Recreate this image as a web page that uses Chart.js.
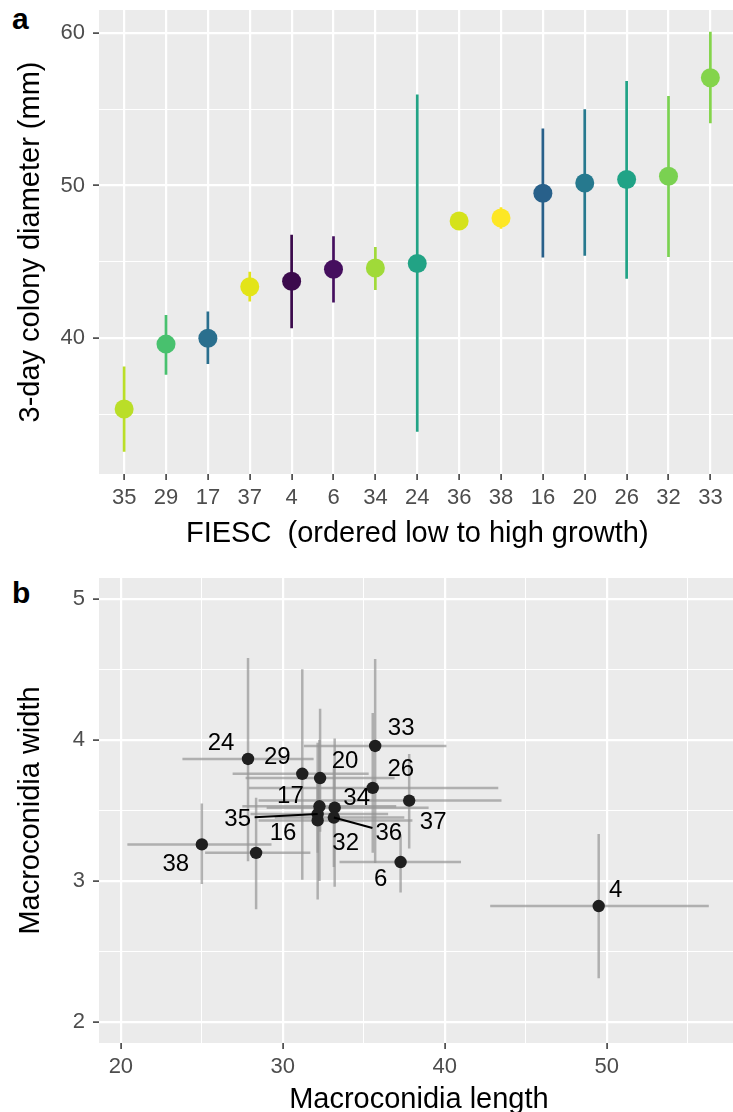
<!DOCTYPE html>
<html>
<head>
<meta charset="utf-8">
<script src="https://cdn.jsdelivr.net/npm/chart.js@4.4.1/dist/chart.umd.min.js"></script>
<style>
  html, body { margin: 0; padding: 0; background: #fff; overflow: hidden; width: 733px; height: 1112px; }
  #chartA { position: absolute; left: 0; top: 0; }
  #chartB { position: absolute; left: 0; top: 570px; }
  .tag { position: absolute; left: 12px; font: bold 30px/30px "Liberation Sans", Arial, sans-serif; color: #000; }
</style>
</head>
<body>
<div class="tag" style="top:4px">a</div>
<div class="tag" style="top:578px">b</div>
<canvas id="chartA" width="745" height="555"></canvas>
<canvas id="chartB" width="745" height="552"></canvas>
<script>
// panel a: 3-day colony growth per FIESC
const fiesc = ['35', '29', '17', '37', '4', '6', '34', '24', '36', '38', '16', '20', '26', '32', '33'];
const growthMean = [35.36, 39.61, 40.0, 43.37, 43.73, 44.52, 44.6, 44.89, 47.67, 47.87, 49.5, 50.17, 50.39, 50.61, 57.06];
const growthLow = [32.55, 37.6, 38.3, 42.4, 40.65, 42.34, 43.15, 33.87, 47.2, 47.17, 45.29, 45.4, 43.9, 45.32, 54.08];
const growthHigh = [38.14, 41.52, 41.74, 44.35, 46.78, 46.67, 45.97, 55.97, 48.1, 48.58, 53.74, 54.99, 56.85, 55.87, 60.07];
const growthColors = ['#bade28', '#48c16e', '#2a6f8e', '#e3e418', '#3b0a4c', '#450f5e', '#a0da39', '#22a385',
                      '#d5e21a', '#fde725', '#28608a', '#26798e', '#20a386', '#7ad151', '#84d44b'];

// panel b: macroconidia size per FIESC
const isolate = ['24', '29', '20', '33', '26', '17', '34', '35', '37', '16', '36', '32', '38', '6', '4'];
const lenMean = [27.85, 31.2, 32.3, 35.7, 35.55, 32.26, 33.2, 32.15, 37.8, 28.35, 33.15, 32.15, 25.0, 37.27, 49.5];
const lenLow = [23.8, 26.9, 27.7, 31.3, 27.9, 27.5, 29.0, 28.0, 28.5, 25.2, 29.5, 28.5, 20.4, 33.5, 42.8];
const lenHigh = [31.9, 35.3, 36.9, 40.1, 43.3, 37.0, 39.0, 36.5, 43.5, 31.7, 37.5, 38.0, 29.3, 41.0, 56.3];
const widMean = [3.865, 3.76, 3.73, 3.957, 3.66, 3.53, 3.52, 3.475, 3.57, 3.2, 3.45, 3.43, 3.26, 3.135, 2.823];
const widLow = [3.14, 3.01, 3.35, 3.128, 3.2, 3.0, 2.96, 3.2, 3.23, 2.8, 3.1, 2.87, 2.98, 2.92, 2.312];
const widHigh = [4.58, 4.5, 4.22, 4.574, 4.19, 4.0, 4.01, 3.75, 3.9, 3.59, 3.8, 3.98, 3.55, 3.33, 3.333];
// label offsets in px (repelled text)
const labelShift = [[-27, -17], [-25, -17], [25, -18], [26, -19], [28, -20], [-29, -11], [22, -10], [-80, 4],
                    [24, 21], [27, -20], [55, 15], [28, 22], [-26, 19], [-20, 16], [17, -17]];

const FONT = '"Liberation Sans", Arial, sans-serif';
const tickFont = { family: FONT, size: 22 };
const titleFont = { family: FONT, size: 29 };

const panelBg = {
  id: 'panelBg',
  beforeDraw(chart) {
    const { ctx, chartArea: a } = chart;
    ctx.save();
    ctx.fillStyle = '#ebebeb';
    ctx.fillRect(a.left, a.top, a.right - a.left, a.bottom - a.top);
    ctx.restore();
  }
};

function gridOpts(isMajor) {
  return {
    color: '#ffffff',
    lineWidth: c => (c.tick && isMajor(c.tick.value)) ? 2.2 : 1,
    tickColor: c => (c.tick && isMajor(c.tick.value)) ? '#333333' : 'rgba(0,0,0,0)',
    tickLength: 6,
    tickWidth: 1.5
  };
}

// fixed axis sizes, no extra room for half labels
const fixX = h => s => { s.height = h; s.paddingLeft = 0; s.paddingRight = 0; };
const fixY = w => s => { s.width = w; s.paddingTop = 0; s.paddingBottom = 0; };

// ----- panel a
const errA = fiesc.map((f, i) => ({
  type: 'line',
  data: [{ x: i, y: growthLow[i] }, { x: i, y: growthHigh[i] }],
  borderColor: growthColors[i],
  borderWidth: 2.7,
  borderCapStyle: 'butt',
  pointRadius: 0,
  showLine: true,
  order: 1
}));

new Chart(document.getElementById('chartA'), {
  type: 'scatter',
  data: {
    datasets: [...errA, {
      data: growthMean.map((v, i) => ({ x: i, y: v })),
      pointRadius: 9.5,
      pointBorderWidth: 0,
      pointBackgroundColor: growthColors,
      order: 0
    }]
  },
  options: {
    responsive: false,
    animation: false,
    events: [],
    layout: { padding: { top: 10, right: 2, left: 0, bottom: 0 } },
    plugins: { legend: { display: false }, tooltip: { enabled: false } },
    scales: {
      x: {
        type: 'linear',
        min: -0.6, max: 14.6,
        border: { display: false },
        grid: gridOpts(() => true),
        ticks: {
          stepSize: 1, includeBounds: false, autoSkip: false, maxRotation: 0, padding: 5,
          color: '#4d4d4d', font: tickFont,
          callback: v => fiesc[v] !== undefined ? fiesc[v] : ''
        },
        title: { display: true, text: 'FIESC  (ordered low to high growth)', color: '#000', font: titleFont, padding: { top: 0, bottom: 4 } },
        afterFit: fixX(81)
      },
      y: {
        min: 31.1, max: 61.5,
        border: { display: false },
        grid: gridOpts(v => v % 10 === 0),
        ticks: {
          stepSize: 5, includeBounds: false, padding: 8,
          color: '#4d4d4d', font: tickFont,
          callback: v => v % 10 === 0 ? v : ''
        },
        title: { display: true, text: '3-day colony diameter (mm)', color: '#000', font: titleFont, padding: { top: 14, bottom: 0 } },
        afterFit: fixY(99)
      }
    }
  },
  plugins: [panelBg]
});

// ----- panel b
const pointLabels = {
  id: 'pointLabels',
  afterDatasetsDraw(chart) {
    const { ctx, scales: { x, y } } = chart;
    ctx.save();
    ctx.font = '24px ' + FONT;
    ctx.textAlign = 'center';
    ctx.textBaseline = 'middle';
    isolate.forEach((name, i) => {
      const px = x.getPixelForValue(lenMean[i]);
      const py = y.getPixelForValue(widMean[i]);
      const [dx, dy] = labelShift[i];
      const dist = Math.hypot(dx, dy);
      if (dist > 45) {
        const k = (dist - 17) / dist;
        ctx.strokeStyle = '#000';
        ctx.lineWidth = 2;
        ctx.beginPath();
        ctx.moveTo(px, py);
        ctx.lineTo(px + dx * k, py + dy * k);
        ctx.stroke();
      }
      ctx.fillStyle = '#000';
      ctx.fillText(name, px + dx, py + dy + 1);
    });
    ctx.restore();
  }
};

const barStyle = { type: 'line', borderColor: 'rgba(150,150,150,0.7)', borderWidth: 2.5, borderCapStyle: 'butt', pointRadius: 0, showLine: true, order: 1 };
const errB = [];
isolate.forEach((n, i) => {
  errB.push({ ...barStyle, data: [{ x: lenLow[i], y: widMean[i] }, { x: lenHigh[i], y: widMean[i] }] });
  errB.push({ ...barStyle, data: [{ x: lenMean[i], y: widLow[i] }, { x: lenMean[i], y: widHigh[i] }] });
});

new Chart(document.getElementById('chartB'), {
  type: 'scatter',
  data: {
    datasets: [...errB, {
      data: lenMean.map((v, i) => ({ x: v, y: widMean[i] })),
      pointRadius: 6.2,
      pointBorderWidth: 0,
      pointBackgroundColor: '#1f1f1f',
      order: 0
    }]
  },
  options: {
    responsive: false,
    animation: false,
    events: [],
    layout: { padding: { top: 8, right: 2, left: 0, bottom: 0 } },
    plugins: { legend: { display: false }, tooltip: { enabled: false } },
    scales: {
      x: {
        type: 'linear',
        min: 18.65, max: 58.15,
        border: { display: false },
        grid: gridOpts(v => v % 10 === 0),
        ticks: {
          stepSize: 5, includeBounds: false, autoSkip: false, maxRotation: 0, padding: 5,
          color: '#4d4d4d', font: tickFont,
          callback: v => v % 10 === 0 ? v : ''
        },
        title: { display: true, text: 'Macroconidia length', color: '#000', font: titleFont, padding: { top: 0, bottom: 5 } },
        afterFit: fixX(79)
      },
      y: {
        min: 1.853, max: 5.147,
        border: { display: false },
        grid: gridOpts(v => Number.isInteger(v)),
        ticks: {
          stepSize: 0.5, includeBounds: false, padding: 8,
          color: '#4d4d4d', font: tickFont,
          callback: v => Number.isInteger(v) ? v : ''
        },
        title: { display: true, text: 'Macroconidia width', color: '#000', font: titleFont, padding: { top: 14, bottom: 0 } },
        afterFit: fixY(99)
      }
    }
  },
  plugins: [panelBg, pointLabels]
});
</script>
</body>
</html>
